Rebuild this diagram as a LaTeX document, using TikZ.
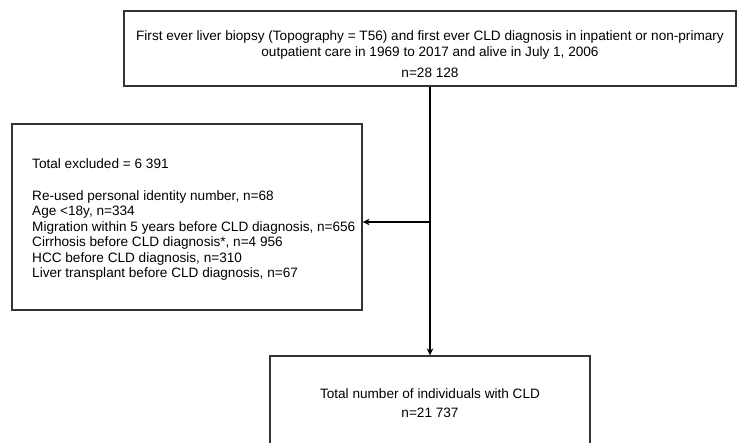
\documentclass[tikz,border=0pt]{standalone}
\usepackage{fontspec}
\setmainfont{Liberation Sans}
\usetikzlibrary{arrows.meta}
\begin{document}
\begin{tikzpicture}[x=1pt,y=-1pt,
  box/.style={draw=black!80, line width=1.3pt, inner sep=0pt},
  txt/.style={font=\fontsize{13.6}{15.5}\selectfont, inner sep=0pt},
  conn/.style={line width=2pt, -{Stealth[length=7pt,width=6.5pt]}}]
\useasboundingbox (0,0) rectangle (738,442);
\clip (0,0) rectangle (738,442);
\node[box, minimum width=612pt, minimum height=75pt] (top) at (430,48.5) {};
\node[box, minimum width=350pt, minimum height=186pt] (left) at (187,217) {};
\node[box, minimum width=320pt, minimum height=130pt] (bot) at (430,421) {};
\node[txt, font=\fontsize{13.6}{16}\selectfont, align=center, anchor=north] (toptext) at (430,30.5)
  {First ever liver biopsy (Topography = T56) and first ever CLD diagnosis in inpatient or non-primary\\
   outpatient care in 1969 to 2017 and alive in July 1, 2006\\[5pt] n=28 128};
\node[txt, align=left, anchor=north west] (lefttext) at (32,158)
  {Total excluded = 6 391\\[16.5pt]
   Re-used personal identity number, n=68\\
   Age <18y, n=334\\
   Migration within 5 years before CLD diagnosis, n=656\\
   Cirrhosis before CLD diagnosis*, n=4 956\\
   HCC before CLD diagnosis, n=310\\
   Liver transplant before CLD diagnosis, n=67};
\node[txt, align=center, anchor=north] (bottext) at (430,388)
  {Total number of individuals with CLD\\[3.5pt] n=21 737};
\coordinate (j) at (430,222);
\draw[conn] (top.south) -- (bot.north);
\draw[conn] (j) -- (j -| left.east);
\end{tikzpicture}
\end{document}
